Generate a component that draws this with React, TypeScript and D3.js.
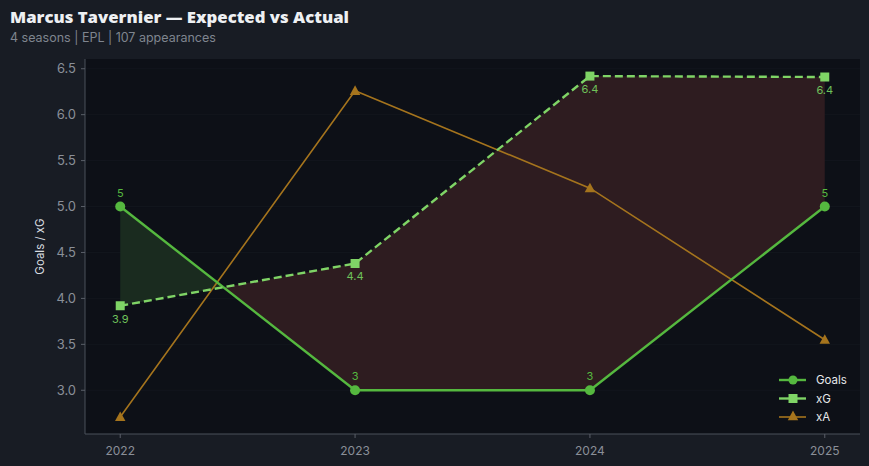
import React from "react";
import * as d3 from "d3";

const seasons = [2022, 2023, 2024, 2025];
const goals = [5, 3, 3, 5];
const xG = [3.92, 4.38, 6.42, 6.41];
const xA = [2.71, 6.26, 5.2, 3.55];
const goalLabels = ["5", "3", "3", "5"];
const xGLabels = ["3.9", "4.4", "6.4", "6.4"];
const yTicks = [3.0, 3.5, 4.0, 4.5, 5.0, 5.5, 6.0, 6.5];

const W = 869, H = 466;
const M = { left: 85, right: 860, top: 59, bottom: 434 };

const C_GOALS = "#55b83f";
const C_XG = "#7fd466";
const C_XA = "#a5741d";

export default function App() {
  const x = d3.scaleLinear().domain([2022 - 0.15, 2025 + 0.15]).range([M.left, M.right]);
  const y = d3.scaleLinear().domain([2.524, 6.606]).range([M.bottom, M.top]);

  type P = { x: number; g: number; e: number };
  const pts: P[] = [];
  for (let i = 0; i < seasons.length; i++) {
    pts.push({ x: seasons[i], g: goals[i], e: xG[i] });
    if (i < seasons.length - 1) {
      const d0 = goals[i] - xG[i], d1 = goals[i + 1] - xG[i + 1];
      if (d0 * d1 < 0) {
        const t = d0 / (d0 - d1);
        const xx = seasons[i] + t * (seasons[i + 1] - seasons[i]);
        const yy = goals[i] + t * (goals[i + 1] - goals[i]);
        pts.push({ x: xx, g: yy, e: yy });
      }
    }
  }
  const greenArea = d3.area<P>()
    .x(d => x(d.x))
    .y0(d => y(d.e))
    .y1(d => y(Math.max(d.g, d.e)))(pts) || "";
  const redArea = d3.area<P>()
    .x(d => x(d.x))
    .y0(d => y(d.g))
    .y1(d => y(Math.max(d.g, d.e)))(pts) || "";

  const line = (vals: number[]) =>
    d3.line<number>().x((_, i) => x(seasons[i])).y(d => y(d))(vals) || "";

  const tri = (cx: number, cy: number, r: number) =>
    `M${cx},${cy - r}L${cx + r * 0.95},${cy + r * 0.75}L${cx - r * 0.95},${cy + r * 0.75}Z`;

  const font = "Inter, 'DejaVu Sans', sans-serif";

  return (
    <svg width={W} height={H} style={{ position: "absolute", left: 0, top: 0, display: "block" }}>
      <rect x={0} y={0} width={W} height={H} fill="#181c24" />
      <text x={10} y={23} fill="#eef0f3" fontFamily="'Open Sans', Lato, sans-serif" fontWeight={800} fontSize={16.5}
        textLength={339} lengthAdjust="spacingAndGlyphs">
        Marcus Tavernier — Expected vs Actual
      </text>
      <text x={10} y={42} fill="#7f858f" fontFamily={font} fontSize={12.5}>
        4 seasons | EPL | 107 appearances
      </text>

      <rect x={M.left} y={M.top} width={M.right - M.left} height={M.bottom - M.top} fill="#0d1017" />
      {yTicks.map(t => (
        <line key={t} x1={M.left} x2={M.right} y1={y(t)} y2={y(t)} stroke="#12161d" strokeWidth={1} />
      ))}

      <path d={greenArea} fill="#1a2b1f" />
      <path d={redArea} fill="#2e1c20" />

      <path d={line(xA)} fill="none" stroke={C_XA} strokeWidth={1.6} />
      {xA.map((v, i) => (
        <path key={i} d={tri(x(seasons[i]), y(v), 5.5)} fill={C_XA} />
      ))}

      <path d={line(goals)} fill="none" stroke={C_GOALS} strokeWidth={2.4} />
      {goals.map((v, i) => (
        <circle key={i} cx={x(seasons[i])} cy={y(v)} r={5} fill={C_GOALS} />
      ))}
      {goals.map((v, i) => (
        <text key={i} x={x(seasons[i])} y={y(v) - 10} textAnchor="middle" fill={C_GOALS}
          fontFamily={font} fontSize={11}>{goalLabels[i]}</text>
      ))}

      <path d={line(xG)} fill="none" stroke={C_XG} strokeWidth={2.4} strokeDasharray="8,4" />
      {xG.map((v, i) => (
        <rect key={i} x={x(seasons[i]) - 4.5} y={y(v) - 4.5} width={9} height={9} fill={C_XG} />
      ))}
      {xG.map((v, i) => (
        <text key={i} x={x(seasons[i])} y={y(v) + 17} textAnchor="middle" fill="#6fc15a"
          fontFamily={font} fontSize={11}>{xGLabels[i]}</text>
      ))}

      <line x1={M.left} x2={M.left} y1={M.top} y2={M.bottom} stroke="#4b505a" strokeWidth={1} />
      <line x1={M.left} x2={M.right} y1={M.bottom} y2={M.bottom} stroke="#4b505a" strokeWidth={1} />
      {yTicks.map(t => (
        <g key={t}>
          <line x1={M.left - 4} x2={M.left} y1={y(t)} y2={y(t)} stroke="#5a5f68" />
          <text x={M.left - 9} y={y(t)} dy="0.35em" textAnchor="end" fill="#8a8f98"
            fontFamily={font} fontSize={13}>{t.toFixed(1)}</text>
        </g>
      ))}
      {seasons.map(s => (
        <g key={s}>
          <line x1={x(s)} x2={x(s)} y1={M.bottom} y2={M.bottom + 4} stroke="#5a5f68" />
          <text x={x(s)} y={M.bottom + 21} textAnchor="middle" fill="#8a8f98"
            fontFamily={font} fontSize={12}>{s}</text>
        </g>
      ))}
      <text transform={`translate(44,${(M.top + M.bottom) / 2}) rotate(-90)`} textAnchor="middle"
        fill="#d9dce0" fontFamily={font} fontSize={11.5}>Goals / xG</text>

      {[
        { label: "Goals", c: C_GOALS, m: "circle" },
        { label: "xG", c: C_XG, m: "square" },
        { label: "xA", c: C_XA, m: "tri" },
      ].map((it, i) => {
        const ly = 380 + i * 18.5;
        const cx = 793;
        return (
          <g key={it.label}>
            <line x1={779} x2={806} y1={ly} y2={ly} stroke={it.c} strokeWidth={it.m === "tri" ? 1.6 : 2.4} />
            {it.m === "circle" && <circle cx={cx} cy={ly} r={4.5} fill={it.c} />}
            {it.m === "square" && <rect x={cx - 4.5} y={ly - 4.5} width={9} height={9} fill={it.c} />}
            {it.m === "tri" && <path d={tri(cx, ly - 1, 5.5)} fill={it.c} />}
            <text x={816} y={ly} dy="0.35em" fill="#e6e8eb" fontFamily={font} fontSize={11.5}>{it.label}</text>
          </g>
        );
      })}
    </svg>
  );
}
